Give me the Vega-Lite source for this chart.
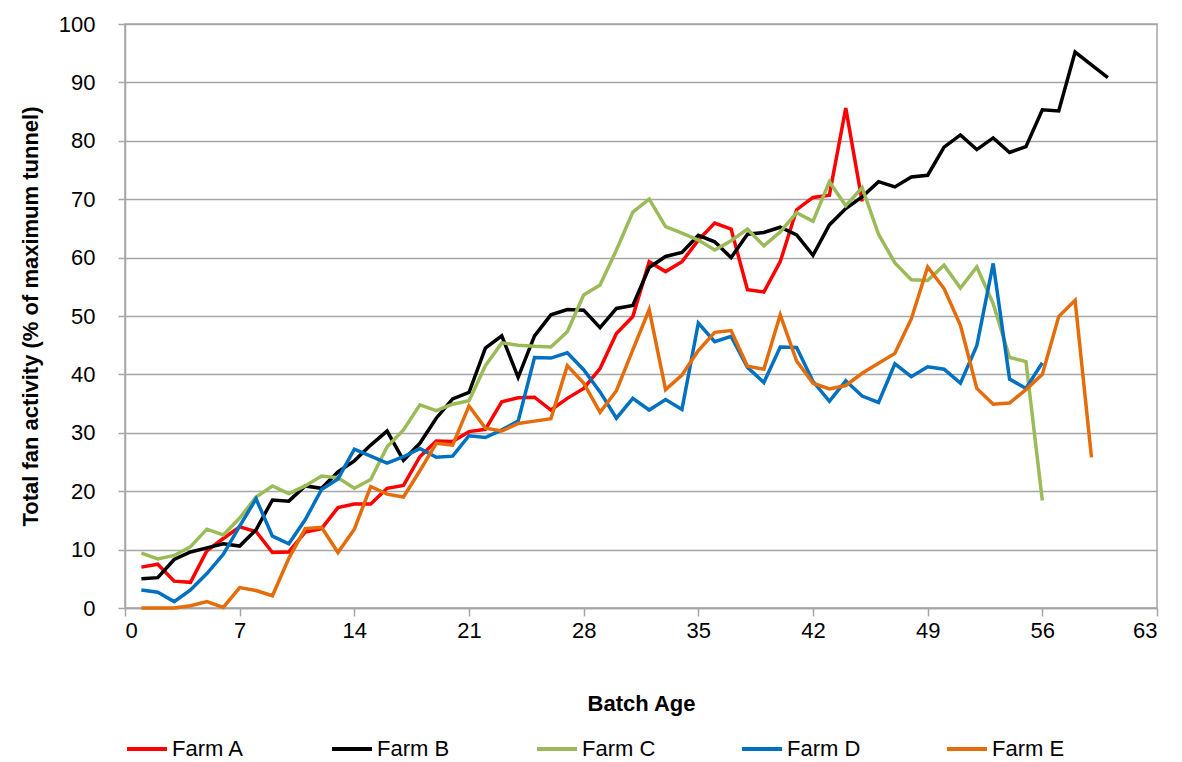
{
"$schema": "https://vega.github.io/schema/vega-lite/v6.json",
"width": 1032, "height": 584,
"autosize": {"type": "none"},
"padding": {"left": 125, "top": 24, "right": 25, "bottom": 154},
"background": "white",
"config": {"font": "Liberation Sans", "view": {"stroke": "#A6A6A6", "strokeWidth": 1.5}},
"datasets": {"fans": [
{"farm":"Farm A","day":1,"value":7.0},{"farm":"Farm A","day":2,"value":7.5},{"farm":"Farm A","day":3,"value":4.6},{"farm":"Farm A","day":4,"value":4.4},{"farm":"Farm A","day":5,"value":9.8},{"farm":"Farm A","day":6,"value":11.9},{"farm":"Farm A","day":7,"value":13.9},{"farm":"Farm A","day":8,"value":13.1},{"farm":"Farm A","day":9,"value":9.5},{"farm":"Farm A","day":10,"value":9.6},
{"farm":"Farm A","day":11,"value":13.0},{"farm":"Farm A","day":12,"value":13.6},{"farm":"Farm A","day":13,"value":17.2},{"farm":"Farm A","day":14,"value":17.8},{"farm":"Farm A","day":15,"value":17.8},{"farm":"Farm A","day":16,"value":20.5},{"farm":"Farm A","day":17,"value":21.0},{"farm":"Farm A","day":18,"value":25.9},{"farm":"Farm A","day":19,"value":28.6},{"farm":"Farm A","day":20,"value":28.5},
{"farm":"Farm A","day":21,"value":30.2},{"farm":"Farm A","day":22,"value":30.6},{"farm":"Farm A","day":23,"value":35.3},{"farm":"Farm A","day":24,"value":36.0},{"farm":"Farm A","day":25,"value":36.1},{"farm":"Farm A","day":26,"value":33.9},{"farm":"Farm A","day":27,"value":35.9},{"farm":"Farm A","day":28,"value":37.6},{"farm":"Farm A","day":29,"value":41.0},{"farm":"Farm A","day":30,"value":47.0},
{"farm":"Farm A","day":31,"value":49.9},{"farm":"Farm A","day":32,"value":59.3},{"farm":"Farm A","day":33,"value":57.6},{"farm":"Farm A","day":34,"value":59.3},{"farm":"Farm A","day":35,"value":63.0},{"farm":"Farm A","day":36,"value":65.9},{"farm":"Farm A","day":37,"value":64.9},{"farm":"Farm A","day":38,"value":54.5},{"farm":"Farm A","day":39,"value":54.1},{"farm":"Farm A","day":40,"value":59.3},
{"farm":"Farm A","day":41,"value":68.2},{"farm":"Farm A","day":42,"value":70.3},{"farm":"Farm A","day":43,"value":70.7},{"farm":"Farm A","day":44,"value":85.6},{"farm":"Farm A","day":45,"value":69.6},
{"farm":"Farm B","day":1,"value":5.0},{"farm":"Farm B","day":2,"value":5.2},{"farm":"Farm B","day":3,"value":8.3},{"farm":"Farm B","day":4,"value":9.6},{"farm":"Farm B","day":5,"value":10.3},{"farm":"Farm B","day":6,"value":11.0},{"farm":"Farm B","day":7,"value":10.6},{"farm":"Farm B","day":8,"value":13.4},{"farm":"Farm B","day":9,"value":18.5},{"farm":"Farm B","day":10,"value":18.3},
{"farm":"Farm B","day":11,"value":20.9},{"farm":"Farm B","day":12,"value":20.5},{"farm":"Farm B","day":13,"value":23.3},{"farm":"Farm B","day":14,"value":25.2},{"farm":"Farm B","day":15,"value":27.9},{"farm":"Farm B","day":16,"value":30.3},{"farm":"Farm B","day":17,"value":25.3},{"farm":"Farm B","day":18,"value":28.2},{"farm":"Farm B","day":19,"value":32.5},{"farm":"Farm B","day":20,"value":35.8},
{"farm":"Farm B","day":21,"value":36.9},{"farm":"Farm B","day":22,"value":44.5},{"farm":"Farm B","day":23,"value":46.6},{"farm":"Farm B","day":24,"value":39.5},{"farm":"Farm B","day":25,"value":46.6},{"farm":"Farm B","day":26,"value":50.2},{"farm":"Farm B","day":27,"value":51.1},{"farm":"Farm B","day":28,"value":51.0},{"farm":"Farm B","day":29,"value":48.0},{"farm":"Farm B","day":30,"value":51.3},
{"farm":"Farm B","day":31,"value":51.8},{"farm":"Farm B","day":32,"value":58.3},{"farm":"Farm B","day":33,"value":60.2},{"farm":"Farm B","day":34,"value":60.9},{"farm":"Farm B","day":35,"value":63.8},{"farm":"Farm B","day":36,"value":62.7},{"farm":"Farm B","day":37,"value":60.0},{"farm":"Farm B","day":38,"value":64.0},{"farm":"Farm B","day":39,"value":64.3},{"farm":"Farm B","day":40,"value":65.2},
{"farm":"Farm B","day":41,"value":63.9},{"farm":"Farm B","day":42,"value":60.4},{"farm":"Farm B","day":43,"value":65.6},{"farm":"Farm B","day":44,"value":68.4},{"farm":"Farm B","day":45,"value":70.4},{"farm":"Farm B","day":46,"value":73.0},{"farm":"Farm B","day":47,"value":72.1},{"farm":"Farm B","day":48,"value":73.8},{"farm":"Farm B","day":49,"value":74.1},{"farm":"Farm B","day":50,"value":78.9},
{"farm":"Farm B","day":51,"value":81.0},{"farm":"Farm B","day":52,"value":78.5},{"farm":"Farm B","day":53,"value":80.5},{"farm":"Farm B","day":54,"value":78.0},{"farm":"Farm B","day":55,"value":79.0},{"farm":"Farm B","day":56,"value":85.3},{"farm":"Farm B","day":57,"value":85.1},{"farm":"Farm B","day":58,"value":95.2},{"farm":"Farm B","day":59,"value":93.0},{"farm":"Farm B","day":60,"value":90.8},
{"farm":"Farm C","day":1,"value":9.4},{"farm":"Farm C","day":2,"value":8.4},{"farm":"Farm C","day":3,"value":9.0},{"farm":"Farm C","day":4,"value":10.5},{"farm":"Farm C","day":5,"value":13.5},{"farm":"Farm C","day":6,"value":12.5},{"farm":"Farm C","day":7,"value":15.4},{"farm":"Farm C","day":8,"value":19.0},{"farm":"Farm C","day":9,"value":20.9},{"farm":"Farm C","day":10,"value":19.6},
{"farm":"Farm C","day":11,"value":20.9},{"farm":"Farm C","day":12,"value":22.6},{"farm":"Farm C","day":13,"value":22.3},{"farm":"Farm C","day":14,"value":20.5},{"farm":"Farm C","day":15,"value":22.0},{"farm":"Farm C","day":16,"value":27.6},{"farm":"Farm C","day":17,"value":30.5},{"farm":"Farm C","day":18,"value":34.8},{"farm":"Farm C","day":19,"value":33.8},{"farm":"Farm C","day":20,"value":34.9},
{"farm":"Farm C","day":21,"value":35.5},{"farm":"Farm C","day":22,"value":41.5},{"farm":"Farm C","day":23,"value":45.4},{"farm":"Farm C","day":24,"value":45.0},{"farm":"Farm C","day":25,"value":44.8},{"farm":"Farm C","day":26,"value":44.7},{"farm":"Farm C","day":27,"value":47.3},{"farm":"Farm C","day":28,"value":53.6},{"farm":"Farm C","day":29,"value":55.3},{"farm":"Farm C","day":30,"value":61.3},
{"farm":"Farm C","day":31,"value":67.8},{"farm":"Farm C","day":32,"value":70.0},{"farm":"Farm C","day":33,"value":65.3},{"farm":"Farm C","day":34,"value":64.2},{"farm":"Farm C","day":35,"value":63.0},{"farm":"Farm C","day":36,"value":61.3},{"farm":"Farm C","day":37,"value":62.9},{"farm":"Farm C","day":38,"value":64.9},{"farm":"Farm C","day":39,"value":62.0},{"farm":"Farm C","day":40,"value":64.4},
{"farm":"Farm C","day":41,"value":67.7},{"farm":"Farm C","day":42,"value":66.2},{"farm":"Farm C","day":43,"value":73.0},{"farm":"Farm C","day":44,"value":68.9},{"farm":"Farm C","day":45,"value":72.0},{"farm":"Farm C","day":46,"value":64.0},{"farm":"Farm C","day":47,"value":59.1},{"farm":"Farm C","day":48,"value":56.2},{"farm":"Farm C","day":49,"value":56.1},{"farm":"Farm C","day":50,"value":58.7},
{"farm":"Farm C","day":51,"value":54.8},{"farm":"Farm C","day":52,"value":58.4},{"farm":"Farm C","day":53,"value":52.1},{"farm":"Farm C","day":54,"value":42.9},{"farm":"Farm C","day":55,"value":42.2},{"farm":"Farm C","day":56,"value":18.4},
{"farm":"Farm D","day":1,"value":3.1},{"farm":"Farm D","day":2,"value":2.7},{"farm":"Farm D","day":3,"value":1.1},{"farm":"Farm D","day":4,"value":3.1},{"farm":"Farm D","day":5,"value":5.9},{"farm":"Farm D","day":6,"value":9.2},{"farm":"Farm D","day":7,"value":14.0},{"farm":"Farm D","day":8,"value":18.7},{"farm":"Farm D","day":9,"value":12.3},{"farm":"Farm D","day":10,"value":11.0},
{"farm":"Farm D","day":11,"value":15.1},{"farm":"Farm D","day":12,"value":20.3},{"farm":"Farm D","day":13,"value":22.1},{"farm":"Farm D","day":14,"value":27.2},{"farm":"Farm D","day":15,"value":26.0},{"farm":"Farm D","day":16,"value":24.8},{"farm":"Farm D","day":17,"value":25.9},{"farm":"Farm D","day":18,"value":27.3},{"farm":"Farm D","day":19,"value":25.8},{"farm":"Farm D","day":20,"value":26.0},
{"farm":"Farm D","day":21,"value":29.5},{"farm":"Farm D","day":22,"value":29.2},{"farm":"Farm D","day":23,"value":30.5},{"farm":"Farm D","day":24,"value":32.0},{"farm":"Farm D","day":25,"value":42.9},{"farm":"Farm D","day":26,"value":42.8},{"farm":"Farm D","day":27,"value":43.7},{"farm":"Farm D","day":28,"value":40.8},{"farm":"Farm D","day":29,"value":37.0},{"farm":"Farm D","day":30,"value":32.5},
{"farm":"Farm D","day":31,"value":35.9},{"farm":"Farm D","day":32,"value":33.9},{"farm":"Farm D","day":33,"value":35.7},{"farm":"Farm D","day":34,"value":34.0},{"farm":"Farm D","day":35,"value":48.8},{"farm":"Farm D","day":36,"value":45.6},{"farm":"Farm D","day":37,"value":46.5},{"farm":"Farm D","day":38,"value":41.2},{"farm":"Farm D","day":39,"value":38.6},{"farm":"Farm D","day":40,"value":44.7},
{"farm":"Farm D","day":41,"value":44.6},{"farm":"Farm D","day":42,"value":38.8},{"farm":"Farm D","day":43,"value":35.4},{"farm":"Farm D","day":44,"value":38.9},{"farm":"Farm D","day":45,"value":36.3},{"farm":"Farm D","day":46,"value":35.2},{"farm":"Farm D","day":47,"value":41.8},{"farm":"Farm D","day":48,"value":39.6},{"farm":"Farm D","day":49,"value":41.3},{"farm":"Farm D","day":50,"value":40.9},
{"farm":"Farm D","day":51,"value":38.5},{"farm":"Farm D","day":52,"value":44.9},{"farm":"Farm D","day":53,"value":59.0},{"farm":"Farm D","day":54,"value":39.2},{"farm":"Farm D","day":55,"value":37.6},{"farm":"Farm D","day":56,"value":42.0},
{"farm":"Farm E","day":1,"value":0.0},{"farm":"Farm E","day":2,"value":0.0},{"farm":"Farm E","day":3,"value":0.0},{"farm":"Farm E","day":4,"value":0.4},{"farm":"Farm E","day":5,"value":1.1},{"farm":"Farm E","day":6,"value":0.1},{"farm":"Farm E","day":7,"value":3.5},{"farm":"Farm E","day":8,"value":3.0},{"farm":"Farm E","day":9,"value":2.1},{"farm":"Farm E","day":10,"value":8.5},
{"farm":"Farm E","day":11,"value":13.6},{"farm":"Farm E","day":12,"value":13.8},{"farm":"Farm E","day":13,"value":9.5},{"farm":"Farm E","day":14,"value":13.5},{"farm":"Farm E","day":15,"value":20.8},{"farm":"Farm E","day":16,"value":19.5},{"farm":"Farm E","day":17,"value":19.0},{"farm":"Farm E","day":18,"value":23.5},{"farm":"Farm E","day":19,"value":28.2},{"farm":"Farm E","day":20,"value":27.9},
{"farm":"Farm E","day":21,"value":34.6},{"farm":"Farm E","day":22,"value":30.8},{"farm":"Farm E","day":23,"value":30.3},{"farm":"Farm E","day":24,"value":31.6},{"farm":"Farm E","day":25,"value":32.0},{"farm":"Farm E","day":26,"value":32.4},{"farm":"Farm E","day":27,"value":41.5},{"farm":"Farm E","day":28,"value":38.5},{"farm":"Farm E","day":29,"value":33.5},{"farm":"Farm E","day":30,"value":37.2},
{"farm":"Farm E","day":31,"value":44.2},{"farm":"Farm E","day":32,"value":51.1},{"farm":"Farm E","day":33,"value":37.4},{"farm":"Farm E","day":34,"value":39.9},{"farm":"Farm E","day":35,"value":44.1},{"farm":"Farm E","day":36,"value":47.2},{"farm":"Farm E","day":37,"value":47.5},{"farm":"Farm E","day":38,"value":41.4},{"farm":"Farm E","day":39,"value":40.9},{"farm":"Farm E","day":40,"value":50.2},
{"farm":"Farm E","day":41,"value":42.3},{"farm":"Farm E","day":42,"value":38.5},{"farm":"Farm E","day":43,"value":37.5},{"farm":"Farm E","day":44,"value":38.1},{"farm":"Farm E","day":45,"value":40.2},{"farm":"Farm E","day":46,"value":41.9},{"farm":"Farm E","day":47,"value":43.6},{"farm":"Farm E","day":48,"value":49.5},{"farm":"Farm E","day":49,"value":58.4},{"farm":"Farm E","day":50,"value":54.7},
{"farm":"Farm E","day":51,"value":48.4},{"farm":"Farm E","day":52,"value":37.6},{"farm":"Farm E","day":53,"value":34.9},{"farm":"Farm E","day":54,"value":35.1},{"farm":"Farm E","day":55,"value":37.4},{"farm":"Farm E","day":56,"value":40.0},{"farm":"Farm E","day":57,"value":49.9},{"farm":"Farm E","day":58,"value":52.7},{"farm":"Farm E","day":59,"value":25.8}
]},
"data": {"name": "fans"},
"mark": {"type": "line", "strokeWidth": 3.5, "strokeJoin": "miter", "clip": false},
"encoding": {
  "x": {"field": "day", "type": "quantitative",
    "scale": {"domain": [0, 63], "nice": false, "zero": false},
    "axis": {"values": [0,7,14,21,28,35,42,49,56,63], "title": "Batch Age", "grid": false,
      "domain": true, "domainColor": "#A6A6A6", "domainWidth": 1.5,
      "ticks": true, "tickColor": "#A6A6A6", "tickSize": 8, "tickWidth": 1.5,
      "labelFontSize": 22, "labelColor": "#000000", "labelPadding": 4,
      "titleFontSize": 22, "titleFontWeight": "bold", "titleColor": "#000000", "titlePadding": 52}},
  "y": {"field": "value", "type": "quantitative",
    "scale": {"domain": [0, 100], "nice": false},
    "axis": {"values": [0,10,20,30,40,50,60,70,80,90,100], "title": "Total fan activity (% of maximum tunnel)",
      "grid": true, "gridColor": "#A6A6A6", "gridWidth": 1.5,
      "domain": true, "domainColor": "#A6A6A6", "domainWidth": 1.5,
      "ticks": true, "tickColor": "#A6A6A6", "tickSize": 7, "tickWidth": 1.5,
      "labelFontSize": 22, "labelColor": "#000000", "labelPadding": 23,
      "titleFontSize": 22, "titleFontWeight": "bold", "titleColor": "#000000", "titlePadding": 16}},
  "color": {"field": "farm", "type": "nominal",
    "scale": {"domain": ["Farm A","Farm B","Farm C","Farm D","Farm E"], "range": ["#FF0000","#000000","#9BBB59","#0070C0","#E46C0A"]},
    "legend": {"title": null, "orient": "bottom", "direction": "horizontal", "columns": 5,
      "symbolType": "stroke", "symbolSize": 1600, "symbolStrokeWidth": 4,
      "labelFontSize": 22, "labelColor": "#000000", "labelOffset": 3, "gridAlign": "all", "columnPadding": 78, "offset": 13}}
}
}
